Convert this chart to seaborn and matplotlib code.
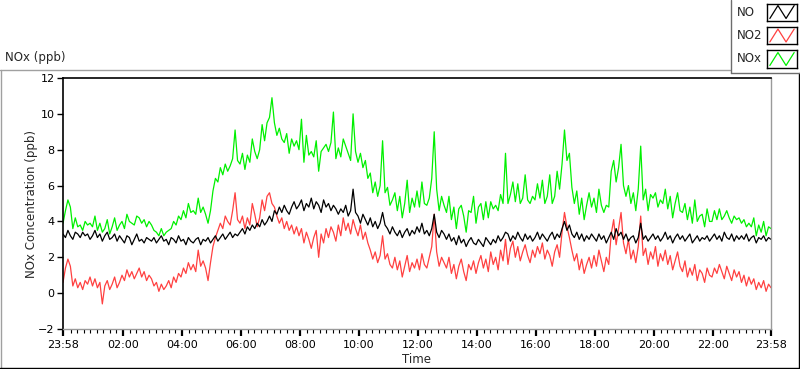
import matplotlib
matplotlib.use("Agg")
import matplotlib.pyplot as plt
import matplotlib.dates as mdates
from matplotlib.lines import Line2D
from matplotlib.ticker import FixedLocator
import pandas as pd
import seaborn as sns

# ── data: 5-minute readings ──────────────────────────────────────────────────
start = "2014-05-11 23:58"
species = ["NO", "NO2", "NOx"]
colours = {"NO": "#000000", "NO2": "#ff4040", "NOx": "#00f000"}

no = [
    3.3, 3.1, 3.5, 3.2, 3.0, 3.4, 3.3, 3.1, 3.4, 3.2, 3.3, 3.0,
    3.2, 3.5, 3.1, 3.3, 2.9, 3.2, 3.4, 3.0, 3.1, 3.3, 2.9, 3.2,
    3.0, 2.8, 3.2, 3.1, 2.7, 3.0, 3.3, 2.9, 3.0, 2.8, 3.1, 3.0,
    2.9, 3.1, 2.8, 3.0, 3.2, 2.9, 3.0, 2.7, 3.1, 3.0, 2.8, 3.2,
    2.9, 3.0, 2.7, 3.1, 2.9, 2.8, 3.0, 3.1, 2.7, 3.0, 2.9, 3.1,
    2.8, 3.0, 3.2, 2.9, 3.1, 3.3, 3.0, 3.2, 3.4, 3.1, 3.3, 3.2,
    3.4, 3.6, 3.3, 3.7, 3.5, 3.8, 3.6, 3.9, 3.7, 4.1, 3.8, 4.0,
    4.3, 4.0, 4.6, 4.4, 4.8, 4.5, 4.9, 4.6, 4.4, 4.8, 5.1, 4.7,
    4.9, 5.2, 4.6, 5.0, 4.8, 5.3, 4.7, 5.1, 4.9, 4.5, 5.2, 4.8,
    5.0, 4.6, 4.9, 4.7, 4.4, 4.7, 4.5, 4.9, 4.3, 4.6, 5.8, 4.5,
    4.3, 3.9, 4.4, 4.1, 3.8, 4.2, 3.7, 4.0, 3.6, 3.9, 4.5, 3.8,
    3.6, 3.3, 3.7, 3.4, 3.2, 3.5, 3.1, 3.4, 3.6, 3.2, 3.5, 3.3,
    3.7, 3.4, 3.9, 3.3, 3.5, 3.2, 3.6, 4.4, 3.4, 3.1, 3.5, 3.3,
    3.0, 3.3, 2.9, 3.1, 2.7, 3.2, 2.8, 3.0, 2.6, 2.9, 3.1, 2.8,
    2.7, 3.0, 2.8, 2.6, 3.1, 2.9, 2.7, 3.0, 2.8, 3.2, 2.9, 3.1,
    3.4, 3.3, 2.9, 3.2, 3.0, 3.4, 3.1, 2.9, 3.3, 3.0, 3.2, 2.9,
    3.1, 3.4, 3.0, 3.3, 3.1, 2.9, 3.2, 3.4, 3.0, 3.3, 3.1, 3.6,
    4.0, 3.5, 3.8, 3.3, 3.1, 3.4, 3.0, 3.3, 2.9, 3.2, 3.0, 3.3,
    3.1, 2.9, 3.3, 3.0, 3.2, 2.8, 3.1, 3.4, 3.0, 3.6, 3.2, 3.4,
    3.0, 3.3, 2.9, 3.1, 3.2, 2.8, 3.1, 3.9, 3.0, 3.2, 2.9, 3.1,
    3.3, 3.0, 3.2, 2.9, 3.1, 3.4, 3.0, 3.2, 2.8, 3.1, 3.3, 3.0,
    3.2, 2.9, 3.1, 3.3, 2.8, 3.0, 3.2, 2.9, 3.1, 3.0, 3.2, 2.9,
    3.1, 3.3, 3.0, 3.2, 2.9, 3.4, 3.1, 3.0, 3.3, 2.9, 3.2, 3.0,
    3.2, 3.0, 3.3, 2.9, 3.1, 3.2, 2.8, 3.1, 3.0, 3.2, 2.9, 3.1,
    3.0,
]

no2 = [
    0.6, 1.4, 1.9, 1.5, 0.4, 0.8, 0.3, 0.6, 0.2, 0.7, 0.5, 0.9,
    0.4, 0.8, 0.3, 0.6, -0.6, 0.4, 0.7, 0.2, 0.5, 0.9, 0.3, 0.6,
    1.0, 0.7, 1.3, 0.9, 1.2, 0.8, 1.1, 1.4, 0.9, 1.2, 0.7, 1.0,
    0.8, 0.4, 0.6, 0.1, 0.5, 0.2, 0.4, 0.7, 0.3, 0.9, 0.6, 1.1,
    0.9, 1.4, 1.1, 1.7, 1.3, 1.6, 1.2, 2.4, 1.5, 1.8, 1.4, 0.7,
    1.7, 2.6, 3.1, 3.5, 3.9, 3.6, 4.3, 4.0, 3.8, 4.6, 5.6, 4.1,
    3.9, 4.3, 3.6, 4.2, 3.8, 5.0, 4.4, 3.7, 4.2, 5.2, 4.6, 5.4,
    5.6, 5.0, 4.8, 4.3, 3.9, 4.2, 3.6, 4.0, 3.5, 3.8, 3.3, 3.7,
    3.2, 3.6, 2.8, 3.4, 3.0, 2.5, 3.1, 3.5, 2.0, 3.3, 2.8, 3.6,
    3.1, 3.7, 3.4, 2.9, 3.8, 3.2, 4.2, 3.5, 3.9, 3.3, 4.1, 3.6,
    3.2, 3.8, 3.0, 3.4, 2.8, 2.4, 1.9, 2.3, 1.7, 2.1, 3.2, 1.9,
    2.2, 1.6, 1.4, 2.0, 1.3, 1.8, 0.9, 1.5, 2.1, 1.2, 1.7, 1.4,
    1.9, 1.3, 2.2, 1.6, 1.4, 2.0, 2.6, 4.4, 2.3, 1.5, 2.0, 1.7,
    1.4, 2.0, 1.1, 1.6, 0.8, 1.5, 1.9, 1.2, 0.7, 1.6, 1.3, 1.8,
    1.1, 1.7, 2.1, 1.4, 1.9, 1.2, 2.3, 1.6, 2.0, 1.3, 2.4, 1.8,
    3.0, 1.6, 2.5, 2.9, 2.0, 2.6, 1.8, 2.3, 2.7, 2.1, 1.7, 2.4,
    2.0, 2.6, 2.2, 2.8, 1.9, 2.4, 2.1, 1.5, 2.3, 2.7, 2.0, 3.4,
    4.5, 3.7, 3.1, 2.4, 1.8, 2.2, 1.3, 1.9, 1.1, 1.6, 2.0, 1.4,
    2.1, 1.5, 2.4, 1.8, 1.2, 2.0, 1.6, 3.3, 4.1, 2.7, 3.6, 4.5,
    2.8, 2.2, 3.0, 1.9, 2.4, 1.7, 2.6, 4.3, 2.1, 2.5, 1.6, 2.3,
    1.9, 2.6, 1.5, 2.2, 1.8, 2.4, 1.6, 2.1, 1.3, 1.8, 2.3, 1.5,
    1.2, 1.8, 0.9, 1.4, 1.0, 1.6, 0.7, 1.3, 1.1, 0.6, 1.4, 1.0,
    0.9, 1.4, 1.1, 1.6, 1.2, 0.8, 1.5, 1.1, 0.7, 1.3, 0.9, 1.2,
    0.6, 1.0, 0.4, 0.9, 0.5, 0.8, 0.2, 0.6, 0.3, 0.7, 0.1, 0.5,
    0.3,
]

nox = [
    3.9, 4.6, 5.2, 4.8, 3.6, 4.2, 3.7, 3.8, 3.5, 4.0, 3.8, 3.9,
    3.7, 4.3, 3.5, 3.9, 3.4, 3.6, 4.1, 3.3, 3.7, 4.2, 3.5, 3.8,
    4.0, 3.6, 4.4, 4.0, 3.9, 3.8, 4.3, 4.2, 3.9, 4.1, 3.7, 4.0,
    3.8, 3.5, 3.4, 3.2, 3.6, 3.2, 3.4, 3.5, 3.6, 4.0, 3.8, 4.3,
    4.1, 4.6, 4.2, 5.0, 4.5, 4.6, 4.4, 5.3, 4.5, 4.8, 4.4, 3.9,
    4.6, 5.7, 6.4, 6.2, 7.0, 6.6, 7.2, 6.8, 7.1, 7.5, 9.1, 7.4,
    7.2, 7.8, 6.9, 7.7, 7.3, 8.6, 7.9, 7.5, 8.0, 9.4, 8.5, 9.5,
    9.8, 10.9, 9.5, 8.8, 9.2, 8.6, 8.4, 8.9, 7.8, 8.6, 8.2, 8.5,
    8.0, 9.7, 7.3, 8.8, 7.7, 7.9, 7.6, 8.5, 6.8, 7.9, 8.1, 8.3,
    7.9, 8.4, 10.1, 7.5, 8.1, 7.6, 8.6, 8.2, 7.8, 7.4, 10.0, 7.9,
    7.3, 7.8, 7.0, 7.4, 6.4, 6.7, 5.6, 6.2, 5.4, 6.0, 8.5, 5.6,
    5.9, 4.9, 5.2, 5.6, 4.6, 5.4, 4.2, 5.0, 6.3, 4.5, 5.3, 4.8,
    5.7, 4.8, 6.2, 5.0, 4.9, 5.3, 6.4, 9.0, 5.8, 4.6, 5.4, 4.9,
    4.5, 5.4, 4.1, 4.8, 3.6, 4.7, 4.9, 4.3, 3.4, 4.6, 4.5, 5.4,
    3.9, 4.8, 5.0, 4.1, 5.1, 4.2, 5.1, 4.7, 4.9, 4.6, 5.5, 5.0,
    7.8, 5.0, 5.5, 6.2, 5.1, 6.1, 5.0, 5.3, 6.6, 5.2, 5.0, 5.4,
    5.2, 6.1, 5.3, 6.3, 5.0, 5.4, 6.6, 5.0, 5.4, 6.8, 5.8, 7.2,
    9.1, 7.4, 7.8, 5.9, 5.0, 5.7, 4.4, 5.3, 4.1, 4.9, 5.6, 4.8,
    5.3, 4.5, 5.8, 4.9, 4.5, 4.9, 4.8, 6.8, 7.4, 6.2, 7.0, 8.3,
    6.0, 5.4, 6.0, 5.0, 5.6, 4.6, 5.8, 8.2, 5.2, 5.8, 4.6, 5.5,
    5.3, 5.6, 4.8, 5.2, 5.0, 5.8, 4.7, 5.4, 4.2, 5.0, 5.6, 4.6,
    4.5, 5.0, 4.1, 4.8, 3.9, 5.2, 4.0, 4.3, 4.4, 3.7, 4.7, 4.0,
    4.0, 4.6, 4.1, 4.7, 4.1, 4.3, 4.6, 4.2, 3.9, 4.3, 4.1, 4.2,
    3.9, 4.1, 3.7, 3.9, 3.7, 4.2, 3.2, 3.8, 3.4, 4.0, 3.2, 3.7,
    3.6,
]

y_ticks = [-2, 0, 2, 4, 6, 8, 10, 12]

# ── frame the data ───────────────────────────────────────────────────────────
time = pd.date_range(start, periods=len(no), freq="5min")
df = pd.DataFrame({"Time": time, "NO": no, "NO2": no2, "NOx": nox})
long = df.melt(id_vars="Time", var_name="species", value_name="ppb")

sns.set_style("white")
plt.rcParams["font.family"] = ["DejaVu Sans"]

fig = plt.figure(figsize=(8, 3.69), dpi=100)
ax = fig.add_axes([63 / 800, 40 / 369, 708 / 800, 251 / 369])

sns.lineplot(data=long, x="Time", y="ppb", hue="species",
             hue_order=["NOx", "NO2", "NO"], palette=colours,
             estimator=None, linewidth=0.9, legend=False, ax=ax)

# ── axes ─────────────────────────────────────────────────────────────────────
ax.set_xlim(time[0], time[-1])
ax.set_ylim(-2, 12)
ax.set_yticks(y_ticks)

first_major = time[0].ceil("2h") + pd.Timedelta(hours=2)
inner = pd.date_range(first_major, time[-1] - pd.Timedelta(minutes=1), freq="2h")
majors = pd.DatetimeIndex([time[0]]).append(inner).append(pd.DatetimeIndex([time[-1]]))
minors = pd.date_range(first_major - 8 * pd.Timedelta(seconds=800), time[-1], freq="800s")
minors = minors[~minors.isin(majors)]

ax.xaxis.set_major_locator(FixedLocator(mdates.date2num(majors.to_pydatetime())))
ax.xaxis.set_minor_locator(FixedLocator(mdates.date2num(minors.to_pydatetime())))
ax.xaxis.set_major_formatter(mdates.DateFormatter("%H:%M"))

ax.tick_params(axis="x", which="major", bottom=True, length=5, width=1.6,
               direction="out", pad=3, labelsize=8, colors="black")
ax.tick_params(axis="x", which="minor", bottom=True, length=3, width=0.8,
               direction="out", colors="black")
ax.tick_params(axis="y", which="major", left=True, length=4, width=1,
               direction="out", pad=2, labelsize=8, colors="black")

for side in ["left", "top"]:
    ax.spines[side].set_color("black")
    ax.spines[side].set_linewidth(1.2)
for side in ["right", "bottom"]:
    ax.spines[side].set_color("#9a9a9a")
    ax.spines[side].set_linewidth(1.0)

ax.set_xlabel("Time", fontsize=8.5)
ax.set_ylabel("NOx Concentration (ppb)", fontsize=8.5)
ax.xaxis.set_label_coords(0.5, -0.095)
ax.yaxis.set_label_coords(-0.036, 0.5)

fig.text(5 / 800, 1 - 57 / 369, "NOx (ppb)", va="center", fontsize=8.5)

# outer panel frame
fig.add_artist(Line2D([0, 730 / 800], [1 - 69.5 / 369] * 2, color="#a0a0a0", lw=1))
fig.add_artist(Line2D([0.5 / 800] * 2, [0, 1 - 69.5 / 369], color="#a0a0a0", lw=1))
fig.add_artist(Line2D([0, 1], [1.5 / 369] * 2, color="black", lw=1))
fig.add_artist(Line2D([798.5 / 800] * 2, [0, 1 - 73 / 369], color="black", lw=1))

# legend panel (LabVIEW style)
fig.add_artist(Line2D([730.5 / 800] * 2, [1, 1 - 72.5 / 369], color="#6d6d6d", lw=1))
fig.add_artist(Line2D([730.5 / 800, 1], [1 - 72.5 / 369] * 2, color="#6d6d6d", lw=1))
glyph_x = [0, 1, 2, 3]
glyph_y = [0.12, 0.88, 0.12, 0.88]
for i, name in enumerate(species):
    yc = 12 + 23.5 * i
    fig.text(737 / 800, 1 - yc / 369, name, va="center", fontsize=8.5)
    sw = fig.add_axes([767 / 800, 1 - (yc + 8.5) / 369, 30 / 800, 17 / 369])
    sw.plot(glyph_x, glyph_y, color=colours[name], lw=0.9)
    sw.set_xlim(-0.35, 3.35)
    sw.set_ylim(0, 1)
    sw.set_xticks([])
    sw.set_yticks([])
    for s in sw.spines.values():
        s.set_color("black")
        s.set_linewidth(1)

fig.savefig("out.png", dpi=100)
